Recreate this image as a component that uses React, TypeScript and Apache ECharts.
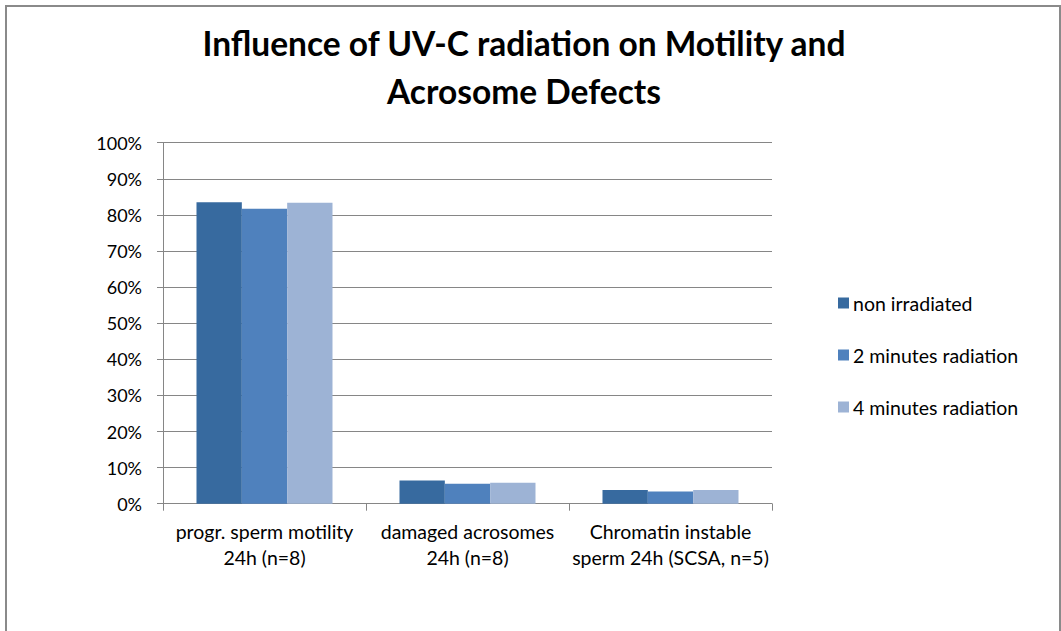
import React, { useEffect, useRef } from "react";
import * as echarts from "echarts";

const categories = [
  "progr. sperm motility\n24h (n=8)",
  "damaged acrosomes\n24h (n=8)",
  "Chromatin instable\nsperm 24h (SCSA, n=5)",
];
const seriesNames = ["non irradiated", "2 minutes radiation", "4 minutes radiation"];
const nonIrradiated = [83.5, 6.4, 3.8];
const twoMinutes = [81.7, 5.5, 3.4];
const fourMinutes = [83.4, 5.8, 3.8];
const colors = ["#376A9F", "#4F81BD", "#9DB3D5"];

const FONT = "Lato, 'Open Sans', sans-serif";

export default function App() {
  const ref = useRef<HTMLDivElement>(null);
  useEffect(() => {
    if (!ref.current) return;
    const chart = echarts.init(ref.current, undefined, { renderer: "svg" });
    const values = [nonIrradiated, twoMinutes, fourMinutes];
    chart.setOption({
      animation: false,
      backgroundColor: "#ffffff",
      textStyle: { fontFamily: FONT },
      title: {
        text: "Influence of UV-C radiation on Motility and\nAcrosome Defects",
        left: 519,
        top: 14,
        textAlign: "center",
        textStyle: {
          fontFamily: FONT,
          fontSize: 33.5,
          fontWeight: "bold",
          color: "#000000",
          lineHeight: 48,
        },
      },
      legend: {
        orient: "vertical",
        left: 833,
        top: 288,
        itemWidth: 11,
        itemHeight: 11,
        itemGap: 32,
        icon: "rect",
        data: seriesNames,
        textStyle: { fontFamily: FONT, fontSize: 19.5, color: "#000000", padding: [0, 0, 0, -1] },
      },
      grid: { left: 163, right: 289, top: 142.7, bottom: 127.3, containLabel: false },
      xAxis: {
        type: "category",
        data: categories,
        axisLine: { show: true, lineStyle: { color: "#868686", width: 1 } },
        axisTick: { show: true, length: 7, alignWithLabel: false, lineStyle: { color: "#868686" } },
        axisLabel: {
          fontFamily: FONT,
          fontSize: 19.5,
          color: "#000000",
          margin: 15,
          lineHeight: 26,
          interval: 0,
        },
      },
      yAxis: {
        type: "value",
        min: 0,
        max: 100,
        interval: 10,
        axisLine: { show: true, lineStyle: { color: "#868686", width: 1 } },
        axisTick: { show: true, length: 6, lineStyle: { color: "#868686" } },
        splitLine: { show: true, lineStyle: { color: "#868686", width: 1 } },
        axisLabel: {
          fontFamily: FONT,
          fontSize: 18,
          color: "#000000",
          margin: 21,
          formatter: "{value}%",
        },
      },
      series: seriesNames.map((name, i) => ({
        name,
        type: "bar",
        data: values[i],
        barGap: "0%",
        barCategoryGap: "33%",
        itemStyle: { color: colors[i] },
      })),
      graphic: [
        {
          type: "rect",
          shape: { x: 6, y: 6, width: 1054, height: 800 },
          style: { fill: "none", stroke: "#8A8A8A", lineWidth: 2 },
          silent: true,
          z: 100,
        },
      ],
    });
    return () => chart.dispose();
  }, []);
  return (
    <div
      ref={ref}
      style={{ position: "absolute", left: 0, top: 0, width: 1061, height: 631 }}
    />
  );
}
